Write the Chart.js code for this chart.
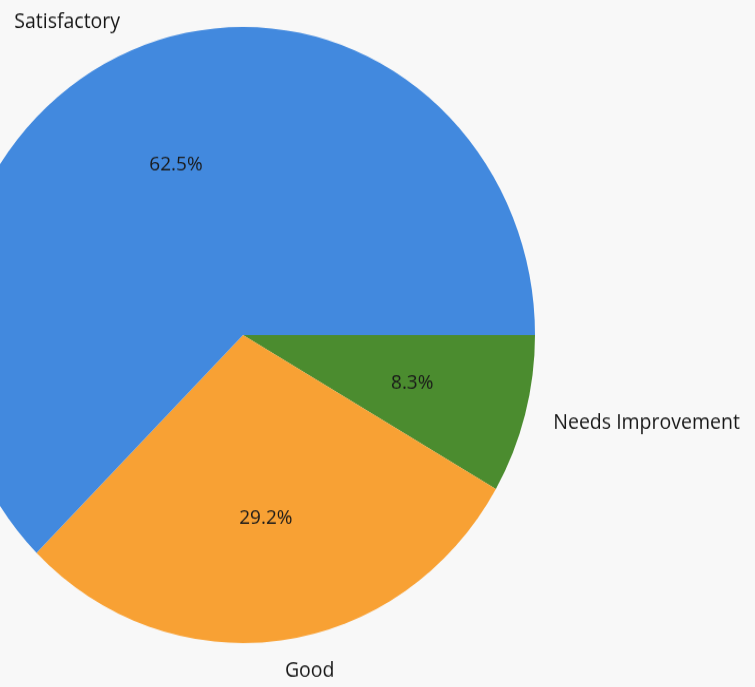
<!DOCTYPE html>
<html>
<head>
<meta charset="utf-8">
<script src="https://cdn.jsdelivr.net/npm/chart.js@4/dist/chart.umd.min.js"></script>
<style>
  html, body { margin: 0; padding: 0; background: #f8f8f8; overflow: hidden; }
  #pie { position: absolute; left: -49px; top: 0; transform: scale(1, 1.055); transform-origin: 292px 335px; }
</style>
</head>
<body>
<canvas id="pie" width="804" height="687"></canvas>
<script>
// slices listed clockwise from 3 o'clock, as they appear
var categories = ['Needs Improvement', 'Good', 'Satisfactory'];
var counts = [2, 7, 15];
var colors = ['#4b8c2f', '#f8a134', '#4289de'];

var total = counts.reduce(function(a, b) { return a + b; }, 0);

// matplotlib-like labels: names outside, percentages inside
var pieLabels = {
    id: 'pieLabels',
    afterDatasetsDraw: function(chart) {
        var ctx = chart.ctx;
        var arcs = chart.getDatasetMeta(0).data;
        ctx.save();
        ctx.textBaseline = 'middle';
        arcs.forEach(function(arc, i) {
            var mid = (arc.startAngle + arc.endAngle) / 2;
            var r = arc.outerRadius;
            var cx = Math.cos(mid), cy = Math.sin(mid);

            ctx.fillStyle = '#161616';
            ctx.font = '19.5px "Open Sans"';
            ctx.textAlign = cx >= 0 ? 'left' : 'right';
            ctx.fillText(categories[i], arc.x + cx * r * 1.1, arc.y + cy * r * 1.1);

            ctx.fillStyle = '#1a1a1a';
            ctx.font = '19px "Open Sans"';
            ctx.textAlign = 'center';
            var pct = (counts[i] / total * 100).toFixed(1) + '%';
            ctx.fillText(pct, arc.x + cx * r * 0.6, arc.y + cy * r * 0.6);
        });
        ctx.restore();
    }
};

var ctx = document.getElementById('pie').getContext('2d');
window.pie = new Chart(ctx, {
    type: 'pie',
    data: {
        labels: categories,
        datasets: [{
            data: counts,
            backgroundColor: colors,
            borderWidth: 0
        }]
    },
    options: {
        responsive: false,
        animation: false,
        rotation: 90,
        layout: { padding: { left: 0, right: 220, top: 43, bottom: 60 } },
        plugins: {
            legend: { display: false },
            title: { display: false },
            tooltip: { enabled: false }
        }
    },
    plugins: [pieLabels]
});
</script>
</body>
</html>
